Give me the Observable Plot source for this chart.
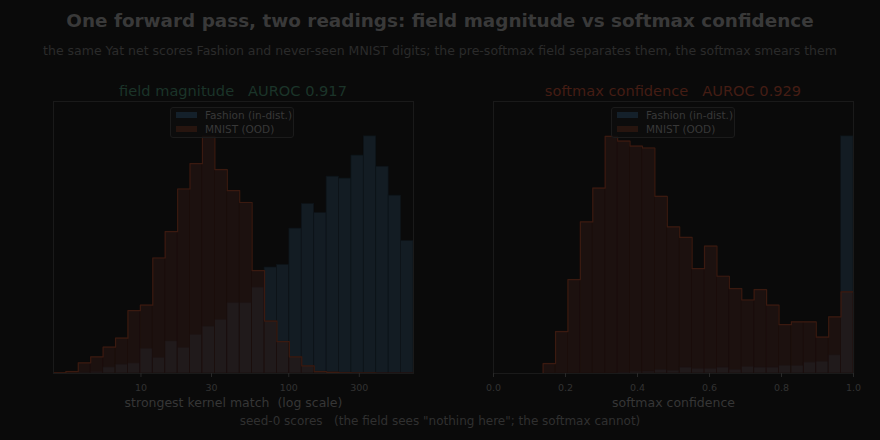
<!DOCTYPE html>
<html>
<head>
<meta charset="utf-8">
<script src="https://cdn.jsdelivr.net/npm/d3@7"></script>
<script src="https://cdn.jsdelivr.net/npm/@observablehq/plot@0.6"></script>
<style>
  html, body { margin: 0; padding: 0; background: #0a0a0a; }
  #root { position: relative; width: 880px; height: 440px; overflow: hidden; font-family: "DejaVu Sans", sans-serif; background: #0a0a0a; }
  .t { position: absolute; white-space: pre; text-align: center; }
  .leg { position: absolute; width: 124px; height: 31px; box-sizing: border-box; border: 1px solid #1b1b1b; border-radius: 3px; background: rgba(12,12,12,0.8); font-size: 10.5px; color: #383838; }
  .leg .row { position: absolute; left: 5px; height: 13px; line-height: 13px; white-space: nowrap; }
  .leg .sw { display: inline-block; width: 21px; height: 6px; vertical-align: middle; margin-right: 8px; position: relative; top: -1px; }
  .plot { position: absolute; top: 80px; }
</style>
</head>
<body>
<div id="root">
  <div class="t" style="left:0;width:880px;top:10px;font-size:18.4px;line-height:22px;font-weight:bold;color:#393939;">One forward pass, two readings: field magnitude vs softmax confidence</div>
  <div class="t" style="left:0;width:880px;top:43px;font-size:12.5px;line-height:16px;color:#2b2b2b;">the same Yat net scores Fashion and never-seen MNIST digits; the pre-softmax field separates them, the softmax smears them</div>
  <div class="t" style="left:53px;width:360px;top:82px;font-size:14.6px;line-height:18px;color:#1b3429;">field magnitude   AUROC 0.917</div>
  <div class="t" style="left:493px;width:360px;top:82px;font-size:14.6px;line-height:18px;color:#441d14;">softmax confidence   AUROC 0.929</div>
  <div id="left" class="plot" style="left:0;"></div>
  <div id="right" class="plot" style="left:440px;"></div>
  <div class="leg" style="left:170px;top:107px;">
    <div class="row" style="top:1px;"><span class="sw" style="background:#14202a;"></span>Fashion (in-dist.)</div>
    <div class="row" style="top:15px;"><span class="sw" style="background:#27150f;"></span>MNIST (OOD)</div>
  </div>
  <div class="leg" style="left:611px;top:107px;">
    <div class="row" style="top:1px;"><span class="sw" style="background:#14202a;"></span>Fashion (in-dist.)</div>
    <div class="row" style="top:15px;"><span class="sw" style="background:#27150f;"></span>MNIST (OOD)</div>
  </div>
  <div class="t" style="left:0;width:880px;top:414px;font-size:12px;line-height:15px;color:#303030;">seed-0 scores   (the field sees "nothing here"; the softmax cannot)</div>
</div>
<script>
// ---- data (heights relative to each series' tallest bin) ----
const fieldRange = [2.56, 698];          // log-spaced bin range, strongest kernel match
const confRange = [0, 1];                // linear bin range, softmax confidence
const binCount = 29;

const fieldFashion = [0, 0, 0.003, 0.005, 0.025, 0.037, 0.042, 0.103, 0.065, 0.135, 0.107, 0.162, 0.197, 0.225,
  0.296, 0.296, 0.362, 0.447, 0.458, 0.611, 0.715, 0.677, 0.830, 0.822, 0.919, 1.0, 0.872, 0.750, 0.559];
const fieldMnist = [0.003, 0.008, 0.045, 0.070, 0.111, 0.149, 0.265, 0.288, 0.487, 0.598, 0.778, 0.885, 1.0, 0.860,
  0.771, 0.721, 0.434, 0.221, 0.134, 0.070, 0.032, 0.008, 0.005, 0.003, 0.002, 0.002, 0.001, 0.001, 0.001];

const confFashion = [0, 0, 0, 0, 0, 0, 0, 0, 0, 0, 0.002, 0.006, 0.007, 0.014, 0.011, 0.024, 0.018, 0.018, 0.024,
  0.014, 0.027, 0.024, 0.024, 0.032, 0.031, 0.046, 0.049, 0.076, 1.0];
const confMnist = [0, 0, 0, 0, 0.042, 0.177, 0.396, 0.639, 0.782, 1.0, 0.980, 0.959, 0.951, 0.747,
  0.618, 0.574, 0.442, 0.537, 0.410, 0.358, 0.310, 0.354, 0.288, 0.206, 0.218, 0.218, 0.153, 0.239, 0.344];

const fieldTicks = [10, 30, 100, 300];
const confTicks = [0, 0.2, 0.4, 0.6, 0.8, 1.0];
const fieldLabel = "strongest kernel match  (log scale)";
const confLabel = "softmax confidence";

// ---- bin edges ----
const logEdges = d3.range(binCount + 1).map(k => fieldRange[0] * Math.pow(fieldRange[1] / fieldRange[0], k / binCount));
const linEdges = d3.range(binCount + 1).map(k => confRange[0] + (confRange[1] - confRange[0]) * k / binCount);
const toBins = (edges, vals) => vals.map((v, i) => ({x1: edges[i], x2: edges[i + 1], v}));
// step outline of a histogram (edges of the bins joined at each bin's height)
const toStep = (edges, vals) => [
  {x: edges[0], v: 0},
  ...vals.flatMap((v, i) => [{x: edges[i], v}, {x: edges[i + 1], v}]),
  {x: edges[edges.length - 1], v: 0}
];

function panel(edges, fashion, mnist, xOpts, ticks, fmt, label) {
  return Plot.plot({
    width: 440,
    height: 340,
    marginLeft: 53,
    marginRight: 27,
    marginTop: 21,
    marginBottom: 47,
    style: {background: "transparent", fontFamily: "DejaVu Sans", color: "#383838", overflow: "visible"},
    x: xOpts,
    y: {domain: [0, 1.147], axis: null},
    marks: [
      Plot.rectY(toBins(edges, fashion), {x1: "x1", x2: "x2", y: "v", fill: "#131c23", stroke: "#0d1318", strokeWidth: 0.7}),
      Plot.rectY(toBins(edges, mnist), {x1: "x1", x2: "x2", y: "v", fill: "#2e1813", fillOpacity: 0.5, stroke: "#1a0e0b", strokeOpacity: 0.6, strokeWidth: 0.7}),
      Plot.line(toStep(edges, mnist), {x: "x", y: "v", stroke: "#3a1a10", strokeWidth: 1.2}),
      Plot.frame({stroke: "#1a1a1a"}),
      Plot.axisX({ticks, tickFormat: fmt, tickSize: 4, tickPadding: 7, fontSize: 9.5, stroke: "#282828", fill: "#323232", label: null}),
      Plot.text([label], {frameAnchor: "bottom", dy: 33, fontSize: 12.5, fill: "#363636"})
    ]
  });
}

document.getElementById("left").append(
  panel(logEdges, fieldFashion, fieldMnist, {type: "log", domain: fieldRange}, fieldTicks, d => String(d), fieldLabel));
document.getElementById("right").append(
  panel(linEdges, confFashion, confMnist, {type: "linear", domain: confRange}, confTicks, d3.format(".1f"), confLabel));
</script>
</body>
</html>
